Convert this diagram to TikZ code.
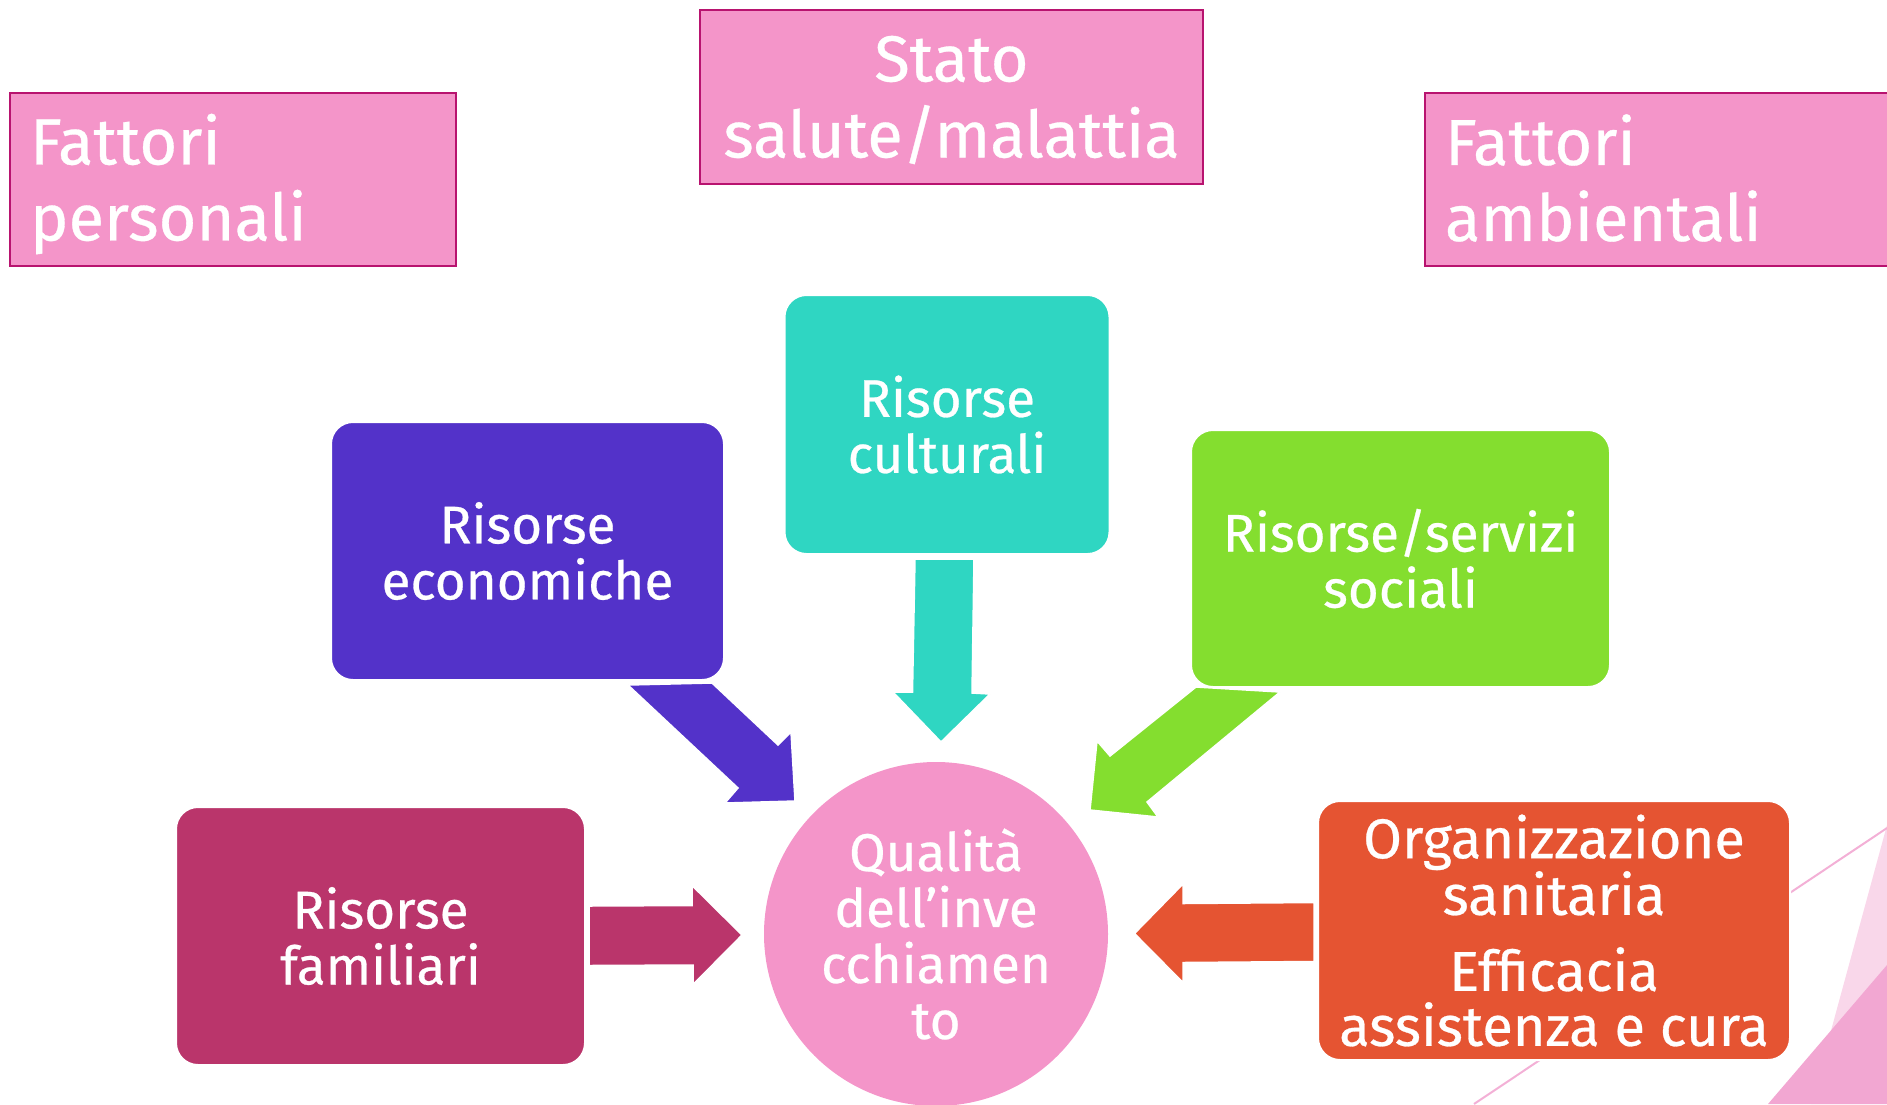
\documentclass[tikz,border=0pt]{standalone}
\usepackage{fontspec}
\setmainfont{Fira Sans}[FakeBold=0.5]
\begin{document}
\definecolor{pinkbox}{HTML}{F495C9}
\definecolor{pinkborder}{HTML}{B8136F}
\definecolor{cpurple}{HTML}{5332C9}
\definecolor{cteal}{HTML}{2FD6C2}
\definecolor{cgreen}{HTML}{84DE2F}
\definecolor{ccrimson}{HTML}{BA356B}
\definecolor{corange}{HTML}{E55432}
\definecolor{decolight}{HTML}{F9D7EA}
\definecolor{decodark}{HTML}{F2A7D2}
\definecolor{decoline}{HTML}{F3B0D6}
\begin{tikzpicture}[x=1pt,y=-1pt,
  topbox/.style={draw=pinkborder,line width=1.5pt,fill=pinkbox,inner sep=0pt},
  toptext/.style={text=white,inner sep=0pt,font=\fontsize{65}{76}\selectfont},
  rbox/.style={rounded corners=22pt,draw=white,line width=2pt,text=white,
    inner sep=0pt,align=center,font=\fontsize{53}{56}\selectfont},
  blockarrow/.style={draw=white,line width=1.5pt}]
\useasboundingbox (0,0) rectangle (1887,1104);
\clip (0,0) rectangle (1887,1104);
% decoration bottom right
\fill[decolight] (1887,825) -- (1811,1104) -- (1887,1104) -- cycle;
\fill[decodark] (1887,965) -- (1768,1104) -- (1887,1104) -- cycle;
\draw[decoline,line width=2pt] (1474,1104) -- (1887,828);
% top boxes
\node[topbox,minimum width=446pt,minimum height=173pt] (fp) at (233,179.5) {};
\node[toptext,text width=406pt,align=left] (fpt) at (233,184) {Fattori\\personali};
\node[topbox,minimum width=503pt,minimum height=174pt] (stato) at (951.5,97) {};
\node[toptext,align=center] (statot) at (951.5,100) {Stato\\salute/malattia};
\node[topbox,minimum width=480pt,minimum height=173pt] (fa) at (1665,179.5) {};
\node[toptext,text width=440pt,align=left] (fat) at (1665,178) {Fattori\\ambientali};
% rounded boxes
\node[rbox,fill=cpurple,minimum width=393pt,minimum height=258pt] (econ) at (527.5,551) {Risorse\\economiche};
\node[rbox,fill=cteal,minimum width=325pt,minimum height=259pt] (cult) at (947,424.5) {Risorse\\culturali};
\node[rbox,fill=cgreen,minimum width=419pt,minimum height=257pt] (soc) at (1400.5,558.5) {Risorse/servizi\\sociali};
\node[rbox,fill=ccrimson,minimum width=409pt,minimum height=258pt] (fam) at (380.5,936) {Risorse\\familiari};
\node[rbox,fill=corange,minimum width=472pt,minimum height=259pt,font=\fontsize{56}{55}\selectfont] (org) at (1554,930.5) {Organizzazione\\sanitaria\\[21pt]Efficacia\\assistenza e cura};
% centre circle
\node[circle,fill=pinkbox,text=white,minimum size=344pt,inner sep=0pt,align=center,
  font=\fontsize{53}{56}\selectfont] (q) at (936,934) {Qualità\\dell’inve\\cchiamen\\to};
% block arrows
\filldraw[blockarrow,fill=cpurple] (628,685) -- (712,683) -- (778,745) -- (791,732) -- (795,801) -- (725,803) -- (738,788) -- cycle;
\filldraw[blockarrow,fill=cteal] (915,559) -- (974,559) -- (972,693) -- (990,694) -- (941,742) -- (893,692) -- (912.5,692) -- cycle;
\filldraw[blockarrow,fill=cgreen] (1196,687) -- (1280,692) -- (1147,802) -- (1158,817) -- (1090,810) -- (1097,741) -- (1110,756) -- cycle;
\filldraw[blockarrow,fill=ccrimson] (589,906) -- (692,905.5) -- (692,885.5) -- (742,935) -- (693,984.5) -- (693,965) -- (589,965.5) -- cycle;
\filldraw[blockarrow,fill=corange] (1314,902.5) -- (1183,903.5) -- (1183,884) -- (1134.5,933.5) -- (1183,982.5) -- (1183,962.5) -- (1314,961.5) -- cycle;
\end{tikzpicture}
\end{document}
